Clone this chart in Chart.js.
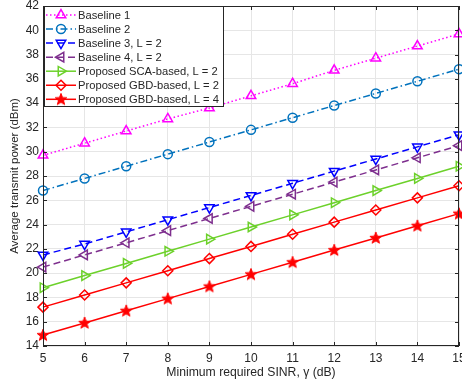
<!DOCTYPE html>
<html>
<head>
<meta charset="utf-8">
<script src="https://cdn.jsdelivr.net/npm/chart.js@4/dist/chart.umd.min.js"></script>
<style>
  html, body { margin: 0; padding: 0; background: #fff; overflow: hidden; }
  canvas { display: block; }
</style>
</head>
<body>
<canvas id="myChart" width="462" height="385"></canvas>
<script>
// data
var sinr = [5, 6, 7, 8, 9, 10, 11, 12, 13, 14, 15];
var baseline1 = [29.7, 30.7, 31.7, 32.7, 33.6, 34.6, 35.6, 36.7, 37.7, 38.7, 39.7];
var baseline2 = [26.8, 27.8, 28.8, 29.8, 30.8, 31.8, 32.8, 33.8, 34.8, 35.8, 36.8];
var baseline3 = [21.5, 22.4, 23.4, 24.4, 25.4, 26.4, 27.4, 28.4, 29.4, 30.4, 31.4];
var baseline4 = [20.5, 21.5, 22.5, 23.5, 24.5, 25.5, 26.5, 27.5, 28.5, 29.5, 30.5];
var scaL2 = [18.8, 19.8, 20.8, 21.8, 22.8, 23.8, 24.8, 25.8, 26.8, 27.8, 28.8];
var gbdL2 = [17.2, 18.2, 19.2, 20.2, 21.2, 22.2, 23.2, 24.2, 25.2, 26.2, 27.2];
var gbdL4 = [14.9, 15.9, 16.9, 17.9, 18.9, 19.9, 20.9, 21.9, 22.9, 23.9, 24.9];
var seriesNames = ['Baseline 1', 'Baseline 2', 'Baseline 3, L = 2', 'Baseline 4, L = 2',
                   'Proposed SCA-based, L = 2', 'Proposed GBD-based, L = 2', 'Proposed GBD-based, L = 4'];
var yTicks = [14, 16, 18, 20, 22, 24, 26, 28, 30, 32, 34, 36, 38, 40, 42];

var FONT = 'Liberation Sans, Arial, Helvetica, sans-serif';
var TEXT = '#262626';

// filled five point star for the last series
function makeStar(color) {
    var c = document.createElement('canvas');
    c.width = 14; c.height = 14;
    var g = c.getContext('2d');
    g.fillStyle = color;
    g.strokeStyle = color;
    g.lineWidth = 1;
    g.beginPath();
    for (var i = 0; i < 10; i++) {
        var r = i % 2 === 0 ? 6.2 : 2.6;
        var a = -Math.PI / 2 + i * Math.PI / 5;
        var px = 7 + r * Math.cos(a), py = 7.3 + r * Math.sin(a);
        if (i === 0) g.moveTo(px, py); else g.lineTo(px, py);
    }
    g.closePath();
    g.fill();
    g.stroke();
    return c;
}
var starImg = makeStar('#ff0000');

function xy(vals) {
    return vals.map(function (v, i) { return {x: sinr[i], y: v}; });
}

function series(idx, vals, color, dash, style, rot, rad) {
    return {
        label: seriesNames[idx],
        data: xy(vals),
        borderColor: color,
        backgroundColor: color,
        borderWidth: 1.5,
        borderDash: dash,
        pointStyle: style,
        pointRotation: rot,
        pointRadius: rad,
        pointHoverRadius: rad,
        pointBorderColor: color,
        pointBackgroundColor: 'rgba(0,0,0,0)',
        pointBorderWidth: 1.5,
        tension: 0,
        clip: false
    };
}

var datasets = [
    series(0, baseline1, '#ff00ff', [1.5, 2.5], 'triangle', 0, 5.5),
    series(1, baseline2, '#0072bd', [7, 3, 1.5, 3], 'circle', 0, 4.5),
    series(2, baseline3, '#0000ff', [7, 4], 'triangle', 180, 5.5),
    series(3, baseline4, '#7e2f8e', [7, 4], 'triangle', 270, 5.5),
    series(4, scaL2, '#6cd12a', [], 'triangle', 90, 5.5),
    series(5, gbdL2, '#ff0000', [], 'rectRot', 0, 5),
    series(6, gbdL4, '#ff0000', [], starImg, 0, 6)
];

function drawMarker(g, ds, x, y) {
    g.save();
    g.strokeStyle = ds.pointBorderColor;
    g.fillStyle = ds.pointBackgroundColor;
    g.lineWidth = ds.pointBorderWidth;
    g.setLineDash([]);
    if (Chart.helpers && Chart.helpers.drawPoint) {
        Chart.helpers.drawPoint(g, {
            pointStyle: ds.pointStyle, rotation: ds.pointRotation,
            radius: ds.pointRadius, borderWidth: ds.pointBorderWidth
        }, x, y);
    } else if (ds.pointStyle instanceof HTMLCanvasElement) {
        g.drawImage(ds.pointStyle, x - ds.pointStyle.width / 2, y - ds.pointStyle.height / 2);
    } else {
        g.beginPath();
        g.arc(x, y, ds.pointRadius, 0, Math.PI * 2);
        g.stroke();
    }
    g.restore();
}

// MATLAB like box with inward ticks plus the legend inside the axes
var boxPlugin = {
    id: 'boxPlugin',
    afterDraw: function (chart) {
        var g = chart.ctx, a = chart.chartArea;
        var xs = chart.scales.x, ys = chart.scales.y;
        g.save();
        g.strokeStyle = TEXT;
        g.lineWidth = 1;
        g.setLineDash([]);
        g.strokeRect(a.left + 0.5, a.top + 0.5, a.right - a.left - 1, a.bottom - a.top - 1);
        g.beginPath();
        sinr.forEach(function (v) {
            var px = Math.round(xs.getPixelForValue(v)) + 0.5;
            g.moveTo(px, a.bottom); g.lineTo(px, a.bottom - 4);
            g.moveTo(px, a.top); g.lineTo(px, a.top + 4);
        });
        yTicks.forEach(function (v) {
            var py = Math.round(ys.getPixelForValue(v)) + 0.5;
            g.moveTo(a.left, py); g.lineTo(a.left + 4, py);
            g.moveTo(a.right, py); g.lineTo(a.right - 4, py);
        });
        g.stroke();

        // legend
        var lx = 44.5, ly = 6.5, lw = 179, lh = 100, row = 14.05;
        g.fillStyle = '#ffffff';
        g.fillRect(lx, ly, lw, lh);
        g.strokeRect(lx, ly, lw, lh);
        g.font = '11.2px ' + FONT;
        g.textBaseline = 'middle';
        g.textAlign = 'left';
        chart.data.datasets.forEach(function (ds, i) {
            var yy = 15 + i * row;
            g.save();
            g.strokeStyle = ds.borderColor;
            g.lineWidth = ds.borderWidth;
            g.setLineDash(ds.borderDash);
            g.beginPath();
            g.moveTo(46, yy); g.lineTo(76, yy);
            g.stroke();
            g.restore();
            drawMarker(g, ds, 61, yy);
            g.fillStyle = TEXT;
            g.fillText(ds.label, 78, yy + 0.5);
        });
        g.restore();
    }
};

var ctx = document.getElementById('myChart').getContext('2d');

var myChart = new Chart(ctx, {
    type: 'line',
    data: { datasets: datasets },
    options: {
        responsive: false,
        animation: false,
        devicePixelRatio: 1,
        layout: { autoPadding: false, padding: { top: 6, right: 3, left: 0, bottom: 0 } },
        plugins: {
            legend: { display: false },
            tooltip: { enabled: false }
        },
        scales: {
            x: {
                type: 'linear',
                min: 5,
                max: 15,
                afterFit: function (scale) {
                    scale.height = 39;
                    scale.paddingLeft = 0;
                    scale.paddingRight = 0;
                },
                ticks: {
                    stepSize: 1,
                    padding: 5,
                    maxRotation: 0,
                    autoSkip: false,
                    color: TEXT,
                    font: { family: FONT, size: 12 }
                },
                grid: { color: '#e6e6e6', drawTicks: false },
                border: { display: false },
                title: {
                    display: true,
                    text: 'Minimum required SINR, γ (dB)',
                    color: TEXT,
                    font: { family: FONT, size: 12.2 },
                    padding: { top: 0, bottom: 5 }
                }
            },
            y: {
                type: 'linear',
                min: 14,
                max: 42,
                afterFit: function (scale) {
                    scale.width = 43;
                    scale.paddingTop = 0;
                    scale.paddingBottom = 0;
                },
                afterBuildTicks: function (scale) {
                    scale.ticks = yTicks.map(function (v) { return {value: v}; });
                },
                ticks: {
                    padding: 4,
                    autoSkip: false,
                    color: TEXT,
                    font: { family: FONT, size: 12 }
                },
                grid: { color: '#e6e6e6', drawTicks: false },
                border: { display: false },
                title: {
                    display: true,
                    text: 'Average transmit power (dBm)',
                    color: TEXT,
                    font: { family: FONT, size: 11.5 },
                    padding: { top: 8, bottom: 0 }
                }
            }
        }
    },
    plugins: [boxPlugin]
});
</script>
</body>
</html>
